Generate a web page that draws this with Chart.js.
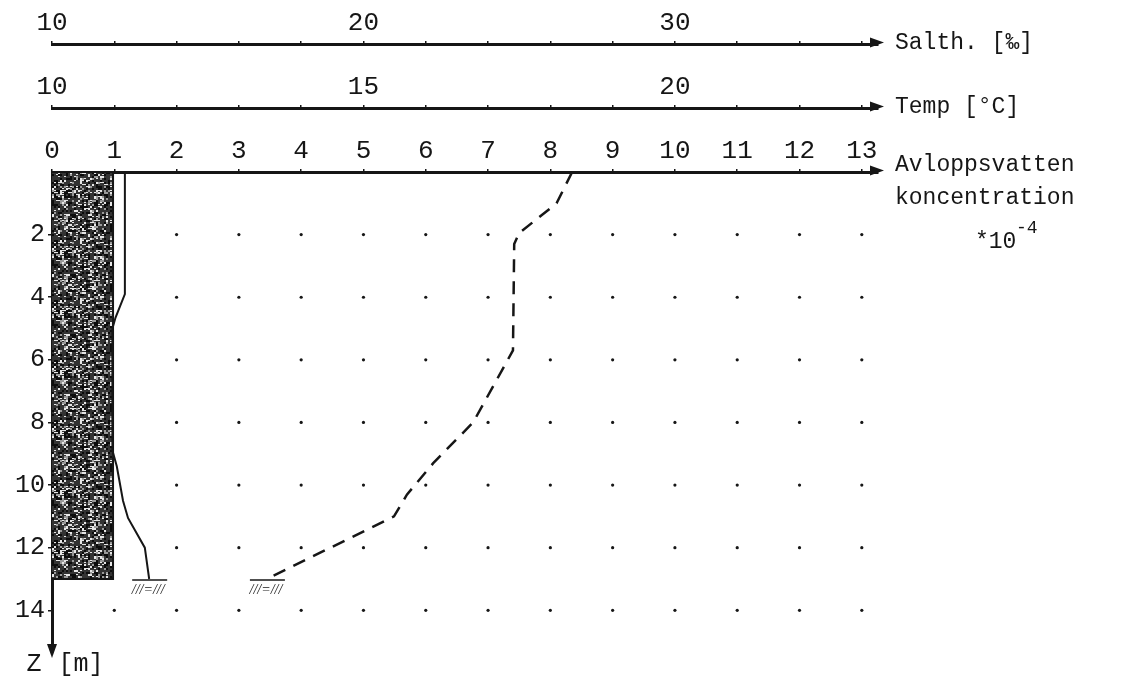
<!DOCTYPE html>
<html>
<head>
<meta charset="utf-8">
<script src="https://cdn.jsdelivr.net/npm/chart.js@4.4.1/dist/chart.umd.min.js"></script>
<style>
  html, body { margin: 0; padding: 0; background: #fff; }
</style>
</head>
<body>
<canvas id="profil" width="1144" height="683"></canvas>
<script>
// Avloppsvatten koncentration (*10^-4) mot djup z [m]
const koncTicks = [0, 1, 2, 3, 4, 5, 6, 7, 8, 9, 10, 11, 12, 13];
const saltTicks = [10, 12, 14, 16, 18, 20, 22, 24, 26, 28, 30, 32, 34, 36];
const saltEtiketter = [10, 20, 30];
const tempTicks = [10, 11, 12, 13, 14, 15, 16, 17, 18, 19, 20, 21, 22, 23];
const tempEtiketter = [10, 15, 20];
const djupTicks = [2, 4, 6, 8, 10, 12, 14];

// skuggad stapel (0 .. 0.98) ner till botten
const stapelKonc = [0, 0.98, 0.98, 0];
const stapelDjup = [0, 0, 13, 13];

// heldragen profil
const heldragenKonc = [1.17, 1.17, 1.02, 0.97, 0.97, 1.04, 1.14, 1.22, 1.49, 1.56];
const heldragenDjup = [0, 3.9, 4.65, 5.0, 8.9, 9.4, 10.5, 11.05, 12.0, 13.0];

// streckad profil
const streckadKonc = [8.35, 8.1, 7.5, 7.42, 7.4, 6.76, 6.12, 5.7, 5.49, 3.45];
const streckadDjup = [0, 1.0, 1.95, 2.3, 5.7, 8.0, 9.3, 10.3, 11.0, 13.0];

// prickrutnät
const prickKolumner = [1, 2, 3, 4, 5, 6, 7, 8, 9, 10, 11, 12, 13];
const prickRader = [2, 4, 6, 8, 10, 12, 14];

const INK = '#161616';
const FONT = "'Liberation Mono', 'DejaVu Sans Mono', monospace";

function punkter(xs, ys) {
  return xs.map((x, i) => ({ x: x, y: ys[i] }));
}

// gråprickigt mönster till stapeln
function stapelMonster() {
  const c = document.createElement('canvas');
  c.width = 60; c.height = 60;
  const g = c.getContext('2d');
  g.fillStyle = '#333';
  g.fillRect(0, 0, 60, 60);
  for (let i = 0; i < 30; i++) {
    for (let j = 0; j < 30; j++) {
      const h = Math.abs(Math.sin(i * 12.9898 + j * 78.233) * 43758.5453) % 1;
      if (h < 0.2) { g.fillStyle = '#e6e6e6'; g.fillRect(i * 2, j * 2, 2, 1 + (h < 0.08)); }
      else if (h < 0.32) { g.fillStyle = '#9a9a9a'; g.fillRect(i * 2, j * 2, 2, 2); }
      else if (h > 0.75) { g.fillStyle = '#0c0c0c'; g.fillRect(i * 2, j * 2, 2, 2); }
    }
  }
  return g.createPattern(c, 'repeat');
}

const prickar = [];
prickRader.forEach(d => prickKolumner.forEach(k => {
  if (!(k < 1.5 && d <= 13)) prickar.push({ x: k, y: d });
}));

function toppAxel(min, max, ticks, etiketter, weight, hojd) {
  return {
    type: 'linear', position: 'top', min: min, max: max, weight: weight,
    afterBuildTicks: s => { s.ticks = ticks.map(v => ({ value: v })); },
    afterFit: s => { s.height = hojd; },
    ticks: {
      autoSkip: false, maxRotation: 0, padding: 2, color: INK,
      font: { family: FONT, size: 26 },
      callback: v => etiketter.includes(v) ? String(v) : ''
    },
    grid: { drawOnChartArea: false, tickLength: 3, color: INK, lineWidth: 1.5 },
    border: { color: INK, width: 3 }
  };
}

// pilar, axelnamn och bottensymboler
const ritaExtra = {
  id: 'ritaExtra',
  afterDatasetsDraw(chart) {
    const ctx = chart.ctx;
    ctx.save();
    ctx.strokeStyle = INK;
    ctx.fillStyle = INK;
    chart.data.datasets.forEach((ds, i) => {
      if (!ds.botten) return;
      const el = chart.getDatasetMeta(i).data;
      const p = el[el.length - 1];
      ctx.lineWidth = 1.5;
      ctx.beginPath();
      ctx.moveTo(p.x - 17, p.y + 1);
      ctx.lineTo(p.x + 18, p.y + 1);
      ctx.stroke();
      ctx.font = "italic 14px 'Liberation Serif', serif";
      ctx.textAlign = 'center';
      ctx.textBaseline = 'top';
      ctx.fillText('///=///', p.x - 1, p.y + 4);
    });
    ctx.restore();
  },
  afterDraw(chart) {
    const ctx = chart.ctx;
    const a = chart.chartArea;
    ctx.save();
    ctx.fillStyle = INK;
    const pilH = (x, y) => {
      ctx.beginPath();
      ctx.moveTo(x + 6, y);
      ctx.lineTo(x - 8, y - 5);
      ctx.lineTo(x - 8, y + 5);
      ctx.closePath();
      ctx.fill();
    };
    const namn = { xSalt: ['Salth. [‰]'], xTemp: ['Temp [°C]'], x: ['Avloppsvatten', 'koncentration'] };
    ctx.font = '23px ' + FONT;
    ctx.textAlign = 'left';
    ctx.textBaseline = 'middle';
    ['xSalt', 'xTemp', 'x'].forEach(id => {
      const s = chart.scales[id];
      const y = s.bottom - 1.5;
      pilH(a.right, y);
      namn[id].forEach((t, k) => ctx.fillText(t, a.right + 17, y - (id === 'x' ? 6 : 0) + k * 33));
    });
    const yk = chart.scales.x.bottom;
    ctx.fillText('*10', 975, yk + 70);
    ctx.font = '18px ' + FONT;
    ctx.fillText('-4', 1016, yk + 56);

    // djupaxelns pil
    ctx.beginPath();
    ctx.moveTo(a.left, a.bottom + 7);
    ctx.lineTo(a.left - 5, a.bottom - 7);
    ctx.lineTo(a.left + 5, a.bottom - 7);
    ctx.closePath();
    ctx.fill();
    ctx.font = '25px ' + FONT;
    ctx.textAlign = 'center';
    ctx.fillText('Z', 34, a.bottom + 13);
    ctx.fillText('[m]', 81, a.bottom + 13);
    ctx.restore();
  }
};

new Chart(document.getElementById('profil'), {
  type: 'scatter',
  data: {
    datasets: [
      {
        data: punkter(heldragenKonc, heldragenDjup),
        showLine: true, borderColor: INK, borderWidth: 2, pointRadius: 0,
        tension: 0, order: 1, clip: 6, botten: true
      },
      {
        data: punkter(streckadKonc, streckadDjup),
        showLine: true, borderColor: INK, borderWidth: 2.5, borderDash: [13, 9],
        pointRadius: 0, tension: 0, order: 2, clip: 6, botten: true
      },
      {
        data: punkter(stapelKonc, stapelDjup),
        showLine: true, fill: 'shape', backgroundColor: stapelMonster(),
        borderColor: INK, borderWidth: 2, pointRadius: 0, order: 3, clip: 4
      },
      {
        data: prickar,
        pointRadius: 1.6, pointBackgroundColor: INK, pointBorderWidth: 0, order: 4
      }
    ]
  },
  options: {
    responsive: false,
    animation: false,
    layout: { padding: { top: 0, left: 0, right: 266, bottom: 32 } },
    plugins: { legend: { display: false }, tooltip: { enabled: false } },
    scales: {
      x: toppAxel(0, 13.26, koncTicks, koncTicks, 1, 64),
      xTemp: toppAxel(10, 23.26, tempTicks, tempEtiketter, 2, 64),
      xSalt: toppAxel(10, 36.52, saltTicks, saltEtiketter, 3, 44),
      y: {
        type: 'linear', position: 'left', reverse: true, min: 0, max: 15.3,
        afterBuildTicks: s => { s.ticks = djupTicks.map(v => ({ value: v })); },
        afterFit: s => { s.width = 52; },
        ticks: { autoSkip: false, padding: 3, color: INK, font: { family: FONT, size: 25 } },
        grid: { drawOnChartArea: false, tickLength: 4, color: INK, lineWidth: 1.5 },
        border: { color: INK, width: 3 }
      }
    }
  },
  plugins: [ritaExtra]
});
</script>
</body>
</html>
